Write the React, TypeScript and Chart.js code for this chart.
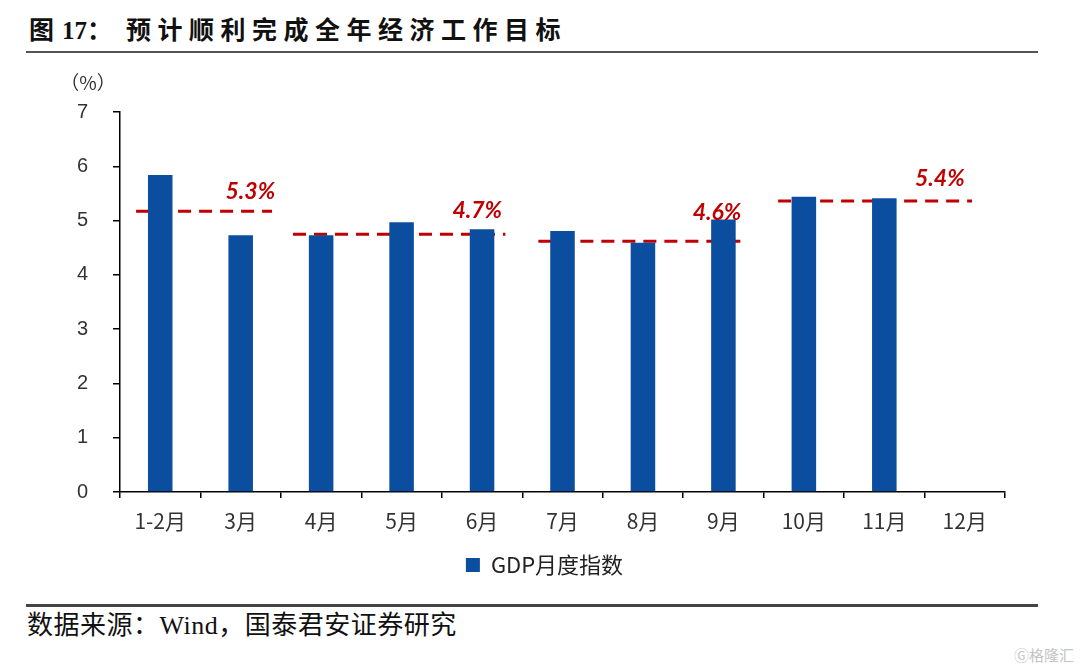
import React, { useEffect, useRef } from "react";
import { Chart, registerables } from "chart.js";

Chart.register(...registerables);

const categories = ["1-2月", "3月", "4月", "5月", "6月", "7月", "8月", "9月", "10月", "11月", "12月"];
const gdpIndex: (number | null)[] = [5.84, 4.73, 4.73, 4.97, 4.84, 4.81, 4.59, 5.02, 5.44, 5.41, null];
const yTicks = [0, 1, 2, 3, 4, 5, 6, 7];

// quarterly target dashed lines (x in category-index units)
const quarterLevel = [5.17, 4.75, 4.62, 5.36];
const quarterStart = [-0.3, 1.65, 4.7, 7.68];
const quarterEnd = [1.39, 4.29, 7.31, 10.09];
const quarterLabels = ["5.3%", "4.7%", "4.6%", "5.4%"];
const quarterLabelX = [1.12, 3.94, 6.92, 9.69];
const quarterLabelY = [5.54, 5.18, 5.14, 5.77];

const BLUE = "#0B4EA0";
const RED = "#C00000";

const labelPlugin = {
  id: "quarterLabels",
  afterLayout(chart: any) {
    if (chart.legend) {
      chart.legend.left += 12;
      chart.legend.right += 12;
    }
  },
  afterDatasetsDraw(chart: any) {
    const { ctx, scales, chartArea } = chart;
    const xl = scales.xl;
    const y = scales.y;
    ctx.save();
    ctx.fillStyle = RED;
    ctx.font = "italic bold 23px Lato, 'Liberation Sans', sans-serif";
    ctx.textAlign = "center";
    ctx.textBaseline = "middle";
    quarterLabels.forEach((t, i) => {
      ctx.fillText(t, xl.getPixelForValue(quarterLabelX[i]), y.getPixelForValue(quarterLabelY[i]));
    });
    ctx.fillStyle = "#333";
    ctx.font = "19px 'Noto Sans CJK SC', sans-serif";
    ctx.textAlign = "center";
    ctx.fillText("（%）", chartArea.left - 32, chartArea.top - 29);
    ctx.restore();
  },
};

export default function App() {
  const ref = useRef<HTMLCanvasElement | null>(null);
  useEffect(() => {
    if (!ref.current) return;
    const lineSets = quarterLevel.map((lv, i) => ({
      type: "line" as const,
      label: "q" + i,
      data: [
        { x: quarterStart[i], y: lv },
        { x: quarterEnd[i], y: lv },
      ],
      xAxisID: "xl",
      yAxisID: "y",
      borderColor: RED,
      borderWidth: 3,
      borderDash: [13, 8],
      pointRadius: 0,
      fill: false,
      borderCapStyle: "butt" as const,
    }));
    const chart = new Chart(ref.current, {
      type: "bar",
      data: {
        labels: categories,
        datasets: [
          {
            type: "bar",
            label: "GDP月度指数",
            data: gdpIndex,
            backgroundColor: BLUE,
            borderWidth: 0,
            grouped: false,
            barPercentage: 0.305,
            categoryPercentage: 1,
            xAxisID: "x",
            yAxisID: "y",
          } as any,
          ...lineSets,
        ],
      },
      options: {
        animation: false,
        responsive: true,
        maintainAspectRatio: false,
        layout: { padding: { top: 112, left: 60, right: 75, bottom: 14 } },
        plugins: {
          tooltip: { enabled: false },
          legend: {
            display: true,
            position: "bottom",
            labels: {
              filter: (item: any) => item.datasetIndex === 0,
              boxWidth: 14,
              boxHeight: 14,
              color: "#222",
              font: { size: 22, family: "'Noto Sans CJK SC', sans-serif" },
            },
          },
        },
        scales: {
          x: {
            type: "category",
            offset: true,
            grid: { offset: true, drawOnChartArea: false, drawTicks: true, tickLength: 6, color: "#000", lineWidth: 1.5 },
            border: { display: true, color: "#000", width: 1.5 },
            ticks: {
              color: "#333",
              padding: 10,
              maxRotation: 0,
              font: { size: 21, family: "'Noto Sans CJK SC', sans-serif" },
            },
            afterFit: (s: any) => {
              s.height = 52;
            },
          },
          xl: {
            type: "linear",
            display: false,
            offset: false,
            grid: { offset: false },
            min: -0.5,
            max: categories.length - 0.5,
          },
          y: {
            type: "linear",
            min: 0,
            max: 7,
            afterBuildTicks: (s: any) => {
              s.ticks = yTicks.map((v) => ({ value: v }));
            },
            grid: { drawOnChartArea: false, drawTicks: true, tickLength: 7, color: "#000", lineWidth: 1.5 },
            border: { display: true, color: "#000", width: 1.5 },
            ticks: {
              color: "#333",
              padding: 25,
              font: { size: 20, family: "'Liberation Sans', Arial, sans-serif" },
            },
            afterFit: (s: any) => {
              s.width = 60;
            },
          },
        },
      } as any,
      plugins: [labelPlugin],
    });
    return () => chart.destroy();
  }, []);

  const serif = "'Liberation Serif', 'Noto Sans CJK SC', serif";
  return (
    <div style={{ position: "absolute", left: 0, top: 0, width: 1080, height: 670, background: "#fff", overflow: "hidden" }}>
      <div
        style={{
          position: "absolute",
          left: 29,
          top: 13,
          fontFamily: serif,
          fontWeight: "bold",
          fontSize: 25,
          color: "#111",
          whiteSpace: "nowrap",
          lineHeight: "36px",
        }}
      >
        <span style={{ marginRight: 8 }}>图</span>
        <span>17</span>
        <span style={{ marginRight: 14 }}>：</span>
        <span style={{ letterSpacing: 6.5 }}>预计顺利完成全年经济工作目标</span>
      </div>
      <div style={{ position: "absolute", left: 26, top: 51, width: 1012, height: 2, background: "#555" }} />
      <div style={{ position: "absolute", left: 0, top: 0, width: 1080, height: 600 }}>
        <canvas ref={ref} />
      </div>
      <div style={{ position: "absolute", left: 26, top: 604, width: 1012, height: 3, background: "#444" }} />
      <div
        style={{
          position: "absolute",
          left: 27,
          top: 608,
          fontFamily: serif,
          fontSize: 26,
          letterSpacing: 0.5,
          color: "#111",
          whiteSpace: "nowrap",
          lineHeight: "36px",
        }}
      >
        数据来源：Wind，国泰君安证券研究
      </div>
      <div
        style={{
          position: "absolute",
          right: 6,
          top: 644,
          fontFamily: "'Noto Sans CJK SC', sans-serif",
          fontSize: 15,
          color: "#c4c4c4",
          whiteSpace: "nowrap",
        }}
      >
        Ⓖ格隆汇
      </div>
    </div>
  );
}
